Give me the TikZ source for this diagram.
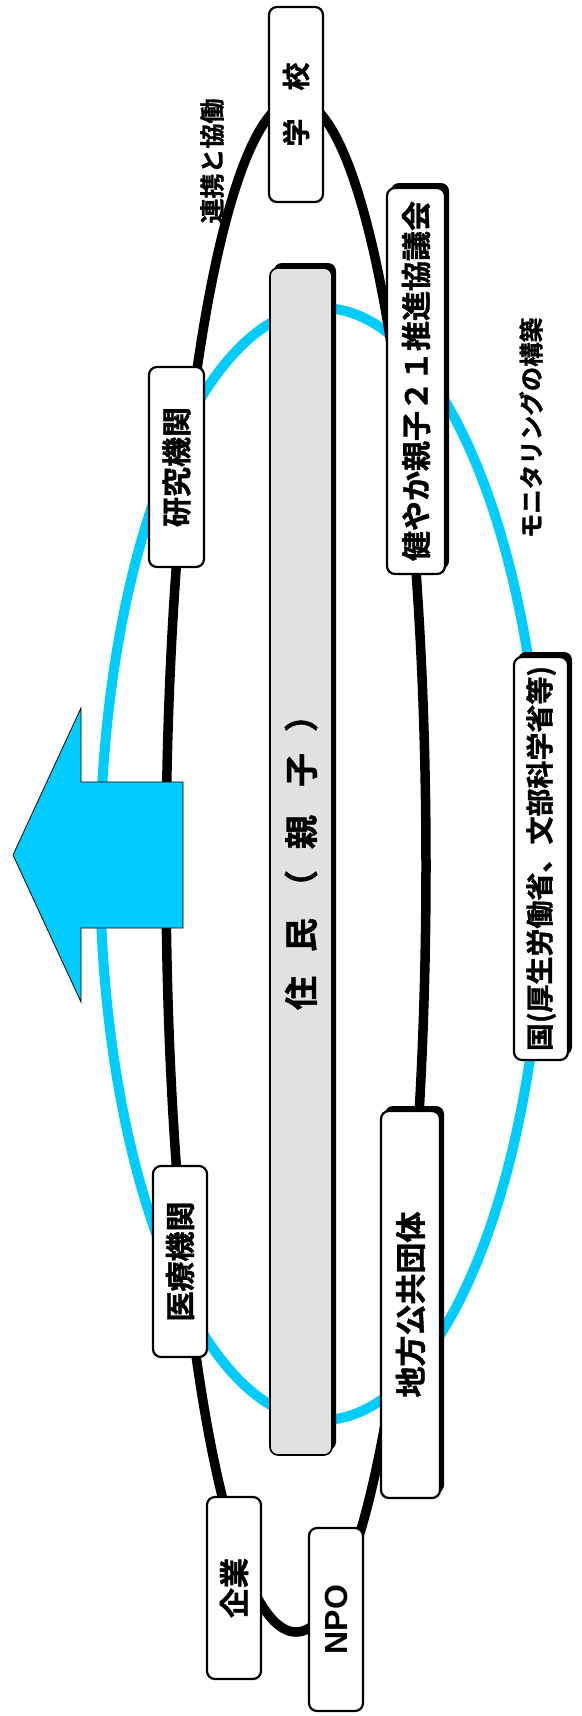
\documentclass[tikz,border=0pt]{standalone}
\usepackage{fontspec}
\usepackage{graphicx}
\newfontfamily\jp{Noto Sans CJK JP}[BoldFont={Noto Sans CJK JP Bold}, BoldFeatures={FakeBold=1.2}]
\newfontfamily\lat{Liberation Sans}
\usetikzlibrary{shadows}
\definecolor{cyanline}{RGB}{0,204,255}
\definecolor{barfill}{RGB}{225,225,225}
\newcommand{\fsz}[1]{\fontsize{#1pt}{#1pt}\selectfont}
\tikzset{
  box/.style={draw=black, line width=2.2pt, fill=white, rounded corners=8pt, inner sep=0pt, font=\jp\bfseries},
  sbox/.style={box, drop shadow={fill=black, opacity=1, shadow xshift=4pt, shadow yshift=5pt}},
  freetext/.style={inner sep=0pt, font=\jp\bfseries},
  bluering/.style={draw=cyanline, line width=10pt},
  blackring/.style={draw=black, line width=9.5pt},
}
\begin{document}
\begin{tikzpicture}[x=1pt, y=-1pt]
\useasboundingbox (0,0) rectangle (581,1716);
\fill[white] (0,0) rectangle (581,1716);

% rings
\draw[bluering] (322,864) ellipse [x radius=222pt, y radius=556pt];
\draw[blackring] (296,866) ellipse [x radius=130pt, y radius=766pt];

% boxes
\node[box, minimum width=54pt, minimum height=195pt] (school) at (296,104.5)
  {\rotatebox{90}{\fsz{28}学　校}};
\node[sbox, minimum width=58pt, minimum height=386pt] (kosodate) at (416,381)
  {\rotatebox{90}{\fsz{30}健やか親子２１推進協議会}};
\node[box, minimum width=55pt, minimum height=200pt] (research) at (176.5,467)
  {\rotatebox{90}{\fsz{30}研究機関}};
\node[sbox, fill=barfill, line width=1.6pt, minimum width=62pt, minimum height=1187pt] (residents) at (301,861.5)
  {\rotatebox{90}{\fsz{34}\kern15pt住\kern24pt民\kern14pt（\kern21pt親\kern28pt子\kern21pt）}};
\node[sbox, minimum width=54pt, minimum height=403pt] (nation) at (541,858.5)
  {\rotatebox{90}{\fsz{28}国(厚生労働省、文部科学省等)}};
\node[box, minimum width=54pt, minimum height=191pt] (medical) at (180,1261.5)
  {\rotatebox{90}{\fsz{30}医療機関}};
\node[sbox, minimum width=59pt, minimum height=387pt] (local) at (410.5,1304.5)
  {\rotatebox{90}{\fsz{31}地方公共団体}};
\node[box, minimum width=54pt, minimum height=182pt] (company) at (234,1588)
  {\rotatebox{90}{\fsz{30}企業}};
\node[box, minimum width=54pt, minimum height=183pt] (npo) at (336,1619.5)
  {\rotatebox{90}{\lat\bfseries\fsz{32}NPO}};

% big arrow
\draw[fill=cyanline, line width=0.8pt, line join=miter]
  (183,782) -- (81,782) -- (81,708) -- (13,855) -- (81,1002) -- (81,928) -- (183,928) -- cycle;

% free labels
\node[freetext] (cooperation) at (212,161) {\rotatebox{90}{\fsz{25}連携と協働}};
\node[freetext] (monitoring) at (531,428) {\rotatebox{90}{\fsz{24.5}モニタリングの構築}};
\end{tikzpicture}
\end{document}
